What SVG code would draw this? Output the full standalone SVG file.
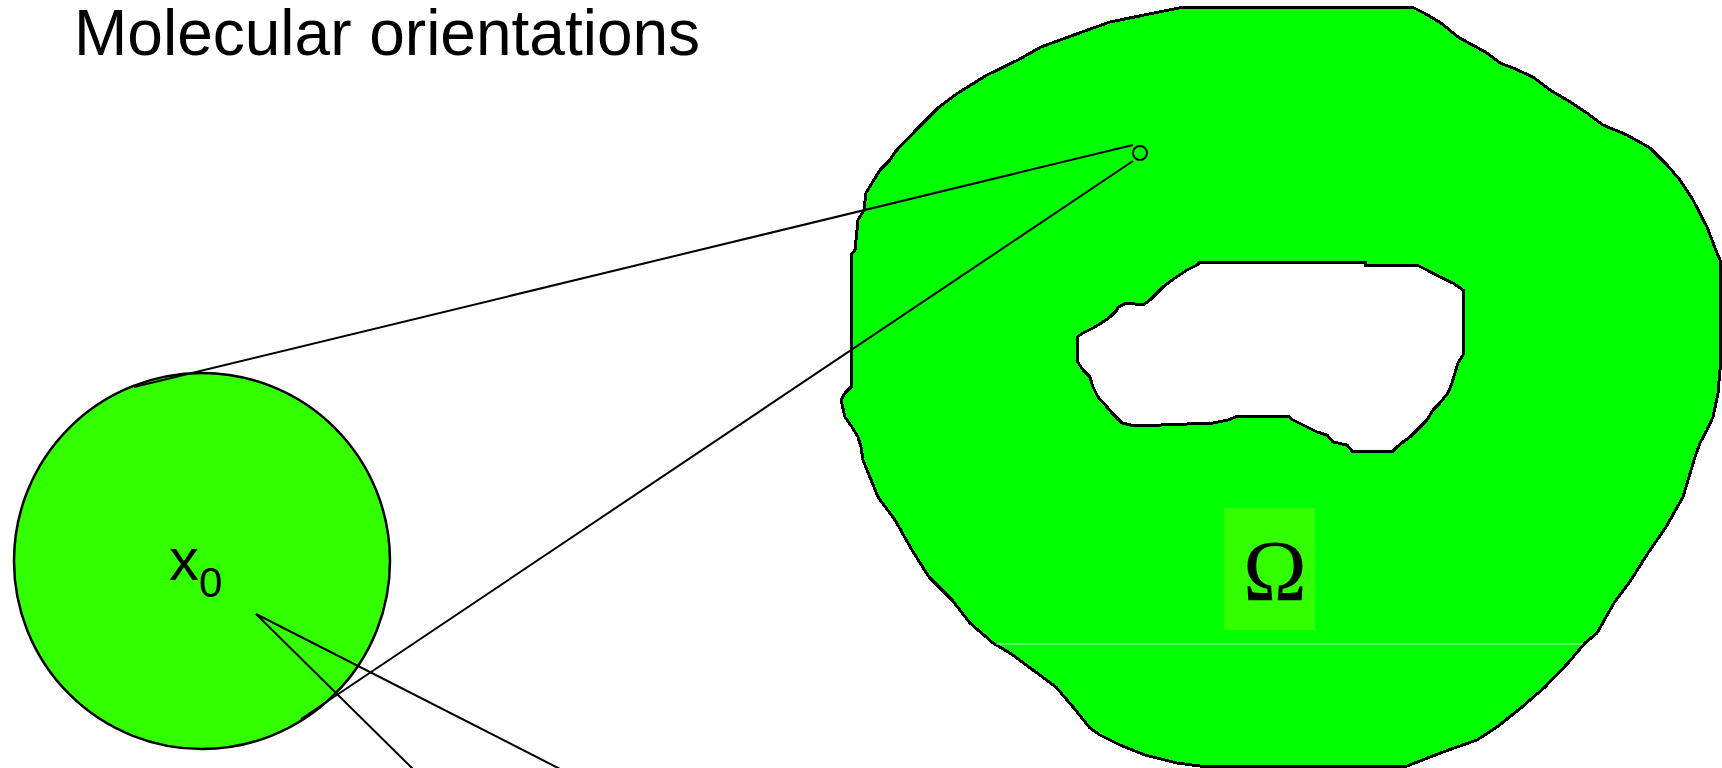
<svg xmlns="http://www.w3.org/2000/svg" width="1722" height="768" viewBox="0 0 1722 768">
<style>
.ln{stroke:#000;stroke-width:2;fill:none}
.sans{font-family:"Liberation Sans",Arial,sans-serif;fill:#000}
.serif{font-family:"Liberation Serif","Times New Roman",serif;fill:#000}
</style>
<rect width="1722" height="768" fill="#fff"/>
<g id="title"><text class="sans" x="74" y="55" font-size="64">Molecular orientations</text></g>
<g id="domain">
<path shape-rendering="crispEdges" fill="#00ff00" fill-rule="evenodd" stroke="#000" stroke-width="3" d="M1184,7 L1412,7 1424,13 1441,23 1458,37 1487,53 1500,63 1513,68 1533,77 1550,90 1567,100 1587,113 1603,125 1627,135 1650,148 1667,165 1680,180 1693,200 1707,227 1717,253 1720,260 1720,370 1718,393 1713,417 1707,430 1700,443 1695,457 1683,497 1666,527 1648,553 1631,580 1614,603 1597,633 1585,643 1568,663 1545,687 1522,707 1497,727 1477,740 1457,747 1443,752 1420,761 1407,766 1200,766 1177,763 1145,755 1120,745 1100,735 1090,728 1073,707 1056,687 1033,670 1010,653 993,643 970,623 952,600 929,577 912,550 895,520 878,497 863,460 861,447 858,437 852,427 845,417 841,400 845,393 851,387 851,255 855,250 858,220 864,210 866,193 872,183 880,170 890,160 895,152 918,128 938,108 958,93 987,75 1018,60 1041,47 1082,32 1110,22 1159,12 Z M1200,262 L1365,262 1365,265 1417,265 1427,270 1440,277 1453,283 1463,290 1463,355 1458,363 1455,373 1452,383 1448,393 1440,403 1433,410 1427,420 1420,427 1410,437 1403,442 1397,447 1393,451 1352,451 1347,445 1333,442 1327,435 1317,432 1307,427 1293,420 1288,416 1238,416 1228,420 1213,423 1135,426 1122,423 1112,413 1107,407 1098,397 1093,387 1090,377 1083,370 1077,361 1077,337 1083,333 1093,328 1103,322 1110,317 1117,310 1118,307 1127,303 1143,305 1150,300 1155,295 1163,287 1175,278 1187,270 1197,265 Z"/>
<line x1="996" y1="644" x2="1582" y2="644" stroke="#c8ffc8" stroke-width="1"/>
<rect x="1224" y="508" width="91" height="122" fill="#33ff00"/>
<text class="serif" x="1275" y="600" font-size="86" text-anchor="middle">Ω</text>
</g>
<g id="disk">
<circle cx="202" cy="561" r="188" fill="#33ff00" stroke="#000" stroke-width="2.5"/>
<text class="sans" x="169" y="580" font-size="60">x<tspan font-size="42" dy="17">0</tspan></text>
</g>
<g id="connectors">
<line class="ln" x1="134" y1="387" x2="1133" y2="145" stroke-width="2.5"/>
<line class="ln" x1="301" y1="719" x2="1133" y2="161"/>
<line class="ln" x1="256" y1="614" x2="566" y2="772"/>
<line class="ln" x1="256" y1="614" x2="416" y2="772"/>
</g>
<g id="point"><circle cx="1140" cy="153" r="7" fill="#00ff00" stroke="#000" stroke-width="2"/></g>
</svg>
